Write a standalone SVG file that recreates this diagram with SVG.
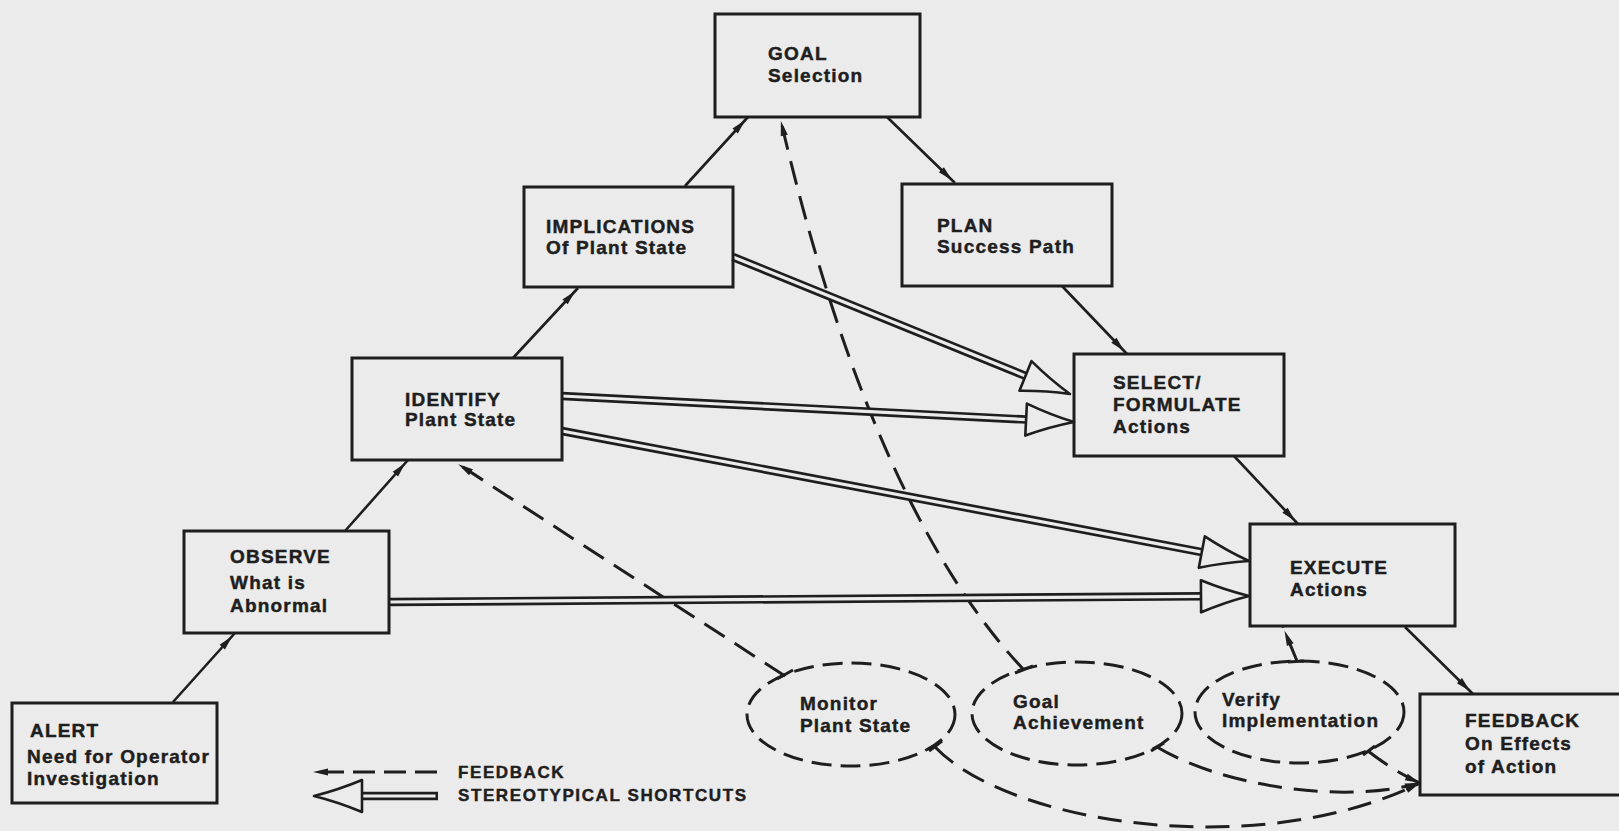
<svg xmlns="http://www.w3.org/2000/svg" width="1619" height="831" viewBox="0 0 1619 831">
<style>
.bg{fill:#ebebeb}
.box{fill:none;stroke:#1e1e1e;stroke-width:3}
.ell{fill:none;stroke:#1e1e1e;stroke-width:3;stroke-dasharray:20 9}
.t{font-family:"Liberation Sans",Arial,Helvetica,sans-serif;font-weight:bold;font-size:19px;letter-spacing:1.2px;fill:#1e1e1e;stroke:#1e1e1e;stroke-width:0.45px}
.sol{fill:none;stroke:#1e1e1e;stroke-width:2.6}
.dash{fill:none;stroke:#1e1e1e;stroke-width:3;stroke-dasharray:24 12}
.tick{fill:none;stroke:#1e1e1e;stroke-width:3}
.dlo{fill:none;stroke:#1e1e1e;stroke-width:8.5}
.dli{fill:none;stroke:#ebebeb;stroke-width:3.2}
</style>
<defs>
<marker id="arr" markerUnits="userSpaceOnUse" markerWidth="24" markerHeight="12" viewBox="0 0 24 12" refX="19" refY="6" orient="auto" overflow="visible">
<path d="M0,2.4 L15,6 L0,9.6 Z" fill="#1e1e1e"/>
</marker>
<marker id="arr0" markerUnits="userSpaceOnUse" markerWidth="24" markerHeight="12" viewBox="0 0 24 12" refX="15" refY="6" orient="auto" overflow="visible">
<path d="M0,2.4 L15,6 L0,9.6 Z" fill="#1e1e1e"/>
</marker>
<marker id="sc" markerUnits="userSpaceOnUse" markerWidth="60" markerHeight="40" viewBox="0 0 60 40" refX="3" refY="20" orient="auto" overflow="visible">
<path d="M3,4 Q27,14 51,20 Q27,26 3,36 Z" fill="#ebebeb" stroke="#1e1e1e" stroke-width="2.6" stroke-linejoin="round"/>
</marker>
</defs>
<rect class="bg" x="0" y="0" width="1619" height="831"/>

<g id="connectors">
<!-- solid flow arrows -->
<path class="sol" d="M173,702 L235,633" marker-end="url(#arr)"/>
<path class="sol" d="M345,531 L408,460" marker-end="url(#arr)"/>
<path class="sol" d="M513,358 L578,288" marker-end="url(#arr)"/>
<path class="sol" d="M685,186 L748,117" marker-end="url(#arr)"/>
<path class="sol" d="M887,117 L955,183" marker-end="url(#arr)"/>
<path class="sol" d="M1062,286 L1127,354" marker-end="url(#arr)"/>
<path class="sol" d="M1234,456 L1298,524" marker-end="url(#arr)"/>
<path class="sol" d="M1405,627 L1473,694" marker-end="url(#arr)"/>

<!-- feedback dashed lines -->
<path class="dash" d="M785,676 L455,462" marker-end="url(#arr)"/>
<path class="dash" d="M1023,669 Q870,505 780,117" marker-end="url(#arr)"/>
<path class="dash" d="M1297,661 L1283,627" marker-end="url(#arr)"/>
<path class="dash" d="M935,747 C1010,825 1260,862 1420,783" marker-end="url(#arr0)"/>
<path class="dash" d="M1157,747 C1220,785 1340,805 1420,783" marker-end="url(#arr0)"/>
<path class="dash" d="M1368,751 Q1395,772 1420,783" marker-end="url(#arr0)"/>

<!-- ticks where feedback lines leave ellipses -->
<path class="tick" d="M777,679 L793,670"/>
<path class="tick" d="M1015,673 L1033,666"/>
<path class="tick" d="M1288,662 L1304,661"/>
<path class="tick" d="M929,751 L942,741"/>
<path class="tick" d="M1151,751 L1164,743"/>
<path class="tick" d="M1363,755 L1375,746"/>

<!-- stereotypical shortcuts (double lines) -->
<path class="dlo" d="M733,257 L1025.5,375.9"/>
<path class="dli" d="M733,257 L1025.5,375.9" marker-end="url(#sc)"/>
<path class="dlo" d="M562,396 L1026.1,419.6"/>
<path class="dli" d="M562,396 L1026.1,419.6" marker-end="url(#sc)"/>
<path class="dlo" d="M562,431 L1201.8,552.1"/>
<path class="dli" d="M562,431 L1201.8,552.1" marker-end="url(#sc)"/>
<path class="dlo" d="M389,602 L1201,596.3"/>
<path class="dli" d="M389,602 L1201,596.3" marker-end="url(#sc)"/>
</g>

<g id="n-goal">
<rect class="box" x="715" y="14" width="205" height="103"/>
<text class="t" x="768" y="60">GOAL</text>
<text class="t" x="768" y="82">Selection</text>
</g>
<g id="n-implications">
<rect class="box" x="524" y="187" width="209" height="100"/>
<text class="t" x="546" y="233">IMPLICATIONS</text>
<text class="t" x="546" y="254">Of Plant State</text>
</g>
<g id="n-plan">
<rect class="box" x="902" y="184" width="210" height="102"/>
<text class="t" x="937" y="232">PLAN</text>
<text class="t" x="937" y="253">Success Path</text>
</g>
<g id="n-identify">
<rect class="box" x="352" y="358" width="210" height="102"/>
<text class="t" x="405" y="406">IDENTIFY</text>
<text class="t" x="405" y="426">Plant State</text>
</g>
<g id="n-select">
<rect class="box" x="1074" y="354" width="210" height="102"/>
<text class="t" x="1113" y="389">SELECT/</text>
<text class="t" x="1113" y="411">FORMULATE</text>
<text class="t" x="1113" y="433">Actions</text>
</g>
<g id="n-observe">
<rect class="box" x="184" y="531" width="205" height="102"/>
<text class="t" x="230" y="563">OBSERVE</text>
<text class="t" x="230" y="589">What is</text>
<text class="t" x="230" y="612">Abnormal</text>
</g>
<g id="n-execute">
<rect class="box" x="1250" y="524" width="205" height="102"/>
<text class="t" x="1290" y="574">EXECUTE</text>
<text class="t" x="1290" y="596">Actions</text>
</g>
<g id="n-alert">
<rect class="box" x="12" y="703" width="205" height="100"/>
<text class="t" x="30" y="737">ALERT</text>
<text class="t" x="27" y="763">Need for Operator</text>
<text class="t" x="27" y="785">Investigation</text>
</g>
<g id="n-feedback">
<rect class="box" x="1420" y="694" width="220" height="101"/>
<text class="t" x="1465" y="727">FEEDBACK</text>
<text class="t" x="1465" y="750">On Effects</text>
<text class="t" x="1465" y="773">of Action</text>
</g>
<g id="n-monitor">
<ellipse class="ell" cx="851" cy="714.5" rx="104" ry="51.5"/>
<text class="t" x="800" y="710">Monitor</text>
<text class="t" x="800" y="732">Plant State</text>
</g>
<g id="n-goalach">
<ellipse class="ell" cx="1077" cy="713.5" rx="105" ry="51.5"/>
<text class="t" x="1013" y="708">Goal</text>
<text class="t" x="1013" y="729">Achievement</text>
</g>
<g id="n-verify">
<ellipse class="ell" cx="1299.5" cy="712" rx="104.5" ry="51"/>
<text class="t" x="1222" y="706">Verify</text>
<text class="t" x="1222" y="727">Implementation</text>
</g>

<g id="legend">
<path class="dash" d="M437,772 L313,772" style="stroke-dasharray:22 9" marker-end="url(#arr0)"/>
<path class="dlo" d="M438,796 L362,796"/>
<path class="dli" d="M435.5,796 L362,796" marker-end="url(#sc)"/>
<text class="t" x="458" y="778" style="font-size:17px;letter-spacing:1.6px">FEEDBACK</text>
<text class="t" x="458" y="801" style="font-size:17px;letter-spacing:1.6px">STEREOTYPICAL SHORTCUTS</text>
</g>
</svg>
